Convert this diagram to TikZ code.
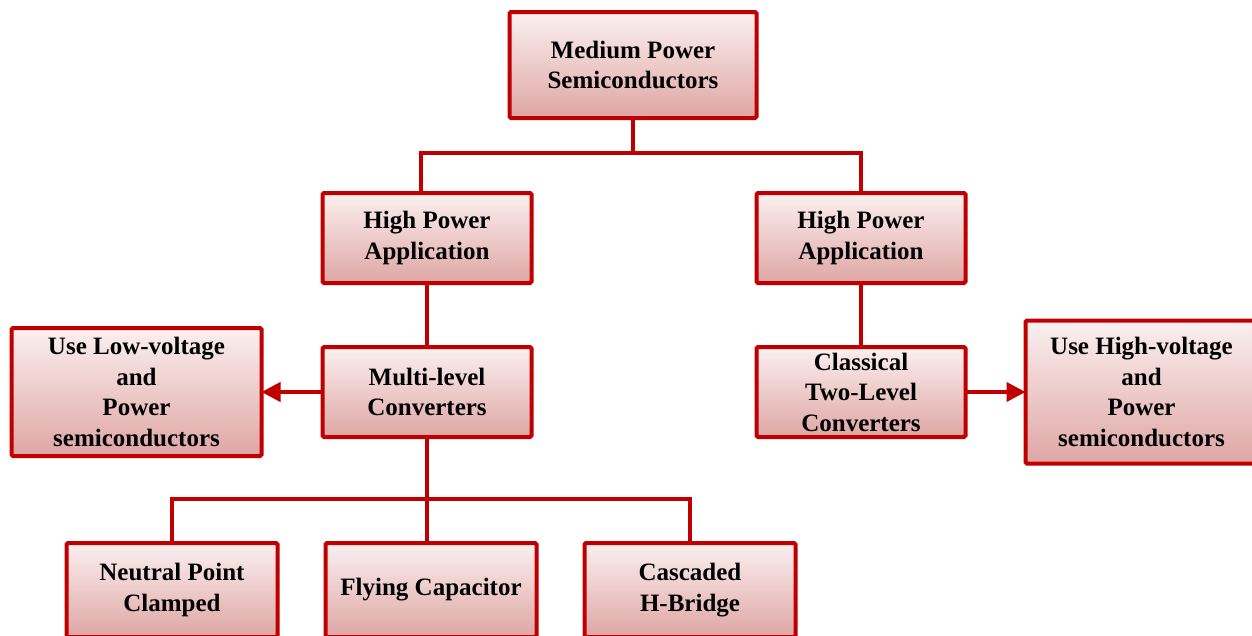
\documentclass[tikz,border=0pt]{standalone}
\usepackage{fontspec}
\setmainfont{Liberation Serif}
\usepackage{xcolor}
\usetikzlibrary{arrows.meta,positioning}

\definecolor{boxred}{RGB}{192,0,0}
\definecolor{boxtop}{RGB}{251,240,240}
\definecolor{boxbot}{RGB}{222,166,164}

\begin{document}
\begin{tikzpicture}[
  font=\bfseries\fontsize{25}{30.5}\selectfont,
  block/.style={draw=boxred, line width=4pt, rounded corners=1.5pt, top color=boxtop, bottom color=boxbot, align=center, minimum width=209pt, minimum height=90pt, inner sep=1pt, outer sep=0pt},
  wide/.style={block, minimum width=250pt},
  leaf/.style={block, minimum width=211pt, minimum height=94pt},
  link/.style={draw=boxred, line width=4pt},
  arrow/.style={link, -{Triangle[length=19pt,width=19pt]}}
]
\useasboundingbox (0,0) rectangle (1252pt,-635pt);

\node[block, minimum width=247pt, minimum height=106pt] (root) at (633pt,-65pt) {Medium Power\\Semiconductors};

\node[block, below=75pt of root, xshift=-206pt] (hpleft) {High Power\\Application};
\node[block, below=75pt of root, xshift=228pt] (hpright) {High Power\\Application};

\node[block, below=64pt of hpleft] (multi) {Multi-level\\Converters};
\node[block, below=64pt of hpright] (classic) {Classical\\Two-Level\\Converters};

\node[wide, left=61pt of multi, minimum height=128pt] (lowv) {Use Low-voltage\\and\\Power\\semiconductors};
\node[wide, right=60pt of classic, minimum width=232pt, minimum height=143pt] (highv) {Use High-voltage\\and\\Power\\semiconductors};

\node[leaf, below=106pt of multi, xshift=4pt] (flying) {Flying Capacitor};
\node[leaf, left=48pt of flying] (npc) {Neutral Point\\Clamped};
\node[leaf, right=48pt of flying] (chb) {Cascaded\\H-Bridge};

\draw[link] (root.south) -- ++(0,-35pt) coordinate (rootfork);
\draw[link] (rootfork) -| ([xshift=-6pt]hpleft.north);
\draw[link] (rootfork) -| (hpright.north);
\draw[link] (hpleft) -- (multi);
\draw[link] (hpright) -- (classic);
\draw[arrow] (multi) -- (lowv);
\draw[arrow] (classic) -- (highv);
\draw[link] (multi.south) -- ++(0,-62pt) coordinate (multifork);
\draw[link] (multifork) -| (npc.north);
\draw[link] (multifork) -| (chb.north);
\draw[link] (multifork) -- (multifork |- flying.north);
\end{tikzpicture}
\end{document}
